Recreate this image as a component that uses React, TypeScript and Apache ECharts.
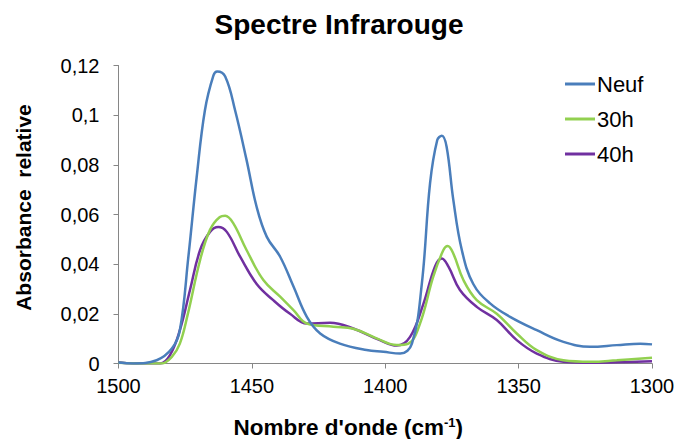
import React, { useEffect, useRef } from "react";
import * as echarts from "echarts";

const seriesNames = ["Neuf", "30h", "40h"];

const neufWave = [1500, 1494.5, 1485.7, 1480, 1477, 1473.8, 1470.7, 1467.6, 1464.4, 1463, 1460, 1456.3, 1452, 1448.2, 1444.4, 1439.4, 1434.4, 1429.4, 1424.4, 1417, 1407, 1400.7, 1394.4, 1390, 1386.3, 1383.2, 1380.5, 1378.8, 1377, 1374.5, 1371.3, 1367, 1360.7, 1353.2, 1343.2, 1333.2, 1323.2, 1313.2, 1304.4, 1300];
const neufAbs = [0.0004, 0, 0.0013, 0.006, 0.0134, 0.043, 0.075, 0.102, 0.116, 0.1176, 0.1156, 0.102, 0.082, 0.063, 0.051, 0.043, 0.031, 0.0188, 0.0121, 0.008, 0.0054, 0.0047, 0.004, 0.008, 0.032, 0.0726, 0.09, 0.0917, 0.0873, 0.066, 0.0457, 0.032, 0.0242, 0.0188, 0.0134, 0.0087, 0.0067, 0.0074, 0.008, 0.0077];

const h30Wave = [1500, 1494, 1484, 1480, 1477, 1474, 1469.4, 1465.7, 1462, 1460, 1457, 1452, 1445.7, 1439.4, 1434.4, 1429.4, 1419.4, 1412, 1403, 1395.7, 1391.3, 1387, 1382, 1378.2, 1376.6, 1374.5, 1370.7, 1365.7, 1358.2, 1350.7, 1343.2, 1333.2, 1323, 1313.2, 1300];
const h30Abs = [0.0003, 0, 0, 0.0027, 0.008, 0.02, 0.0417, 0.0538, 0.059, 0.0595, 0.0565, 0.0457, 0.0336, 0.0269, 0.0215, 0.0161, 0.0148, 0.014, 0.01, 0.0074, 0.008, 0.016, 0.035, 0.0457, 0.0473, 0.0443, 0.0336, 0.0255, 0.02, 0.0121, 0.0054, 0.0013, 0.0007, 0.0013, 0.0023];

const h40Wave = [1500, 1494.5, 1484.4, 1480.7, 1477, 1473.2, 1469.4, 1465.7, 1462.6, 1459.4, 1454.4, 1448.2, 1442, 1435.7, 1429.4, 1420.7, 1412, 1402, 1395.7, 1390.7, 1385.7, 1381.3, 1378.8, 1376.3, 1372, 1365.7, 1358.2, 1350.7, 1343.2, 1333.2, 1323, 1313, 1300];
const h40Abs = [0.0005, 0, 0, 0.0034, 0.0134, 0.0296, 0.0457, 0.053, 0.055, 0.053, 0.043, 0.032, 0.0255, 0.02, 0.0161, 0.0164, 0.0141, 0.0094, 0.0072, 0.0107, 0.024, 0.0392, 0.0423, 0.039, 0.0296, 0.0228, 0.0175, 0.0094, 0.004, 0.0007, 0.0003, 0.0005, 0.0009];

const colors = ["#4A7EBB", "#92D050", "#7030A0"];

const zip = (xs: number[], ys: number[]) => xs.map((x, i) => [x, ys[i]]);

export default function App() {
  const ref = useRef<HTMLDivElement>(null);
  useEffect(() => {
    if (!ref.current) return;
    const chart = echarts.init(ref.current, null, { renderer: "svg" });
    const font = "'Liberation Sans', Arial, sans-serif";
    const datasets = [zip(neufWave, neufAbs), zip(h30Wave, h30Abs), zip(h40Wave, h40Abs)];
    chart.setOption({
      animation: false,
      backgroundColor: "#ffffff",
      title: {
        text: "Spectre Infrarouge",
        left: "center",
        top: 5,
        textStyle: { fontFamily: font, fontSize: 28, fontWeight: "bold", color: "#000" },
      },
      legend: {
        orient: "vertical",
        left: 560,
        top: 68,
        itemWidth: 30,
        itemHeight: 3,
        itemGap: 13,
        icon: "rect",
        data: seriesNames,
        textStyle: { fontFamily: font, fontSize: 22, color: "#000", padding: [0, 0, 0, -3] },
      },
      grid: { left: 118.5, right: 26, top: 65.5, bottom: 75.5, outerBoundsMode: "none", containLabel: false },
      xAxis: {
        type: "value",
        inverse: true,
        min: 1300,
        max: 1500,
        interval: 50,
        name: "Nombre d'onde (cm{sup|-1})",
        nameLocation: "middle",
        nameGap: 52,
        nameTextStyle: {
          fontFamily: font,
          fontSize: 22.5,
          fontWeight: "bold",
          color: "#000",
          padding: [0, 74, 0, 0],
          rich: {
            sup: { fontFamily: font, fontSize: 13, fontWeight: "bold", color: "#000", verticalAlign: "top", padding: [0, 0, 11, 0] },
          },
        },
        axisLine: { show: true, lineStyle: { color: "#868686", width: 1 } },
        axisTick: { show: true, length: 5, lineStyle: { color: "#868686" } },
        splitLine: { show: false },
        axisLabel: { fontFamily: font, fontSize: 20, color: "#000", margin: 12, formatter: (v: number) => String(v) },
      },
      yAxis: {
        type: "value",
        min: 0,
        max: 0.12,
        interval: 0.02,
        name: "Absorbance  relative",
        nameLocation: "middle",
        nameGap: 85,
        nameTextStyle: { fontFamily: font, fontSize: 21, fontWeight: "bold", color: "#000", padding: [0, 0, 0, 14] },
        axisLine: { show: true, lineStyle: { color: "#868686", width: 1 } },
        axisTick: { show: true, length: 5, lineStyle: { color: "#868686" } },
        splitLine: { show: false },
        axisLabel: {
          fontFamily: font,
          fontSize: 20,
          color: "#000",
          margin: 19,
          formatter: (v: number) => String(Number(v.toFixed(2))).replace(".", ","),
        },
      },
      series: seriesNames.map((name, i) => ({
        name,
        type: "line",
        data: datasets[i],
        smooth: 0.4,
        showSymbol: false,
        symbol: "none",
        lineStyle: { color: colors[i], width: 2.5 },
        itemStyle: { color: colors[i] },
        z: 3 - i,
      })),
    });
    return () => chart.dispose();
  }, []);
  return <div ref={ref} style={{ width: 678, height: 439, position: "absolute", left: 0, top: 0 }} />;
}
